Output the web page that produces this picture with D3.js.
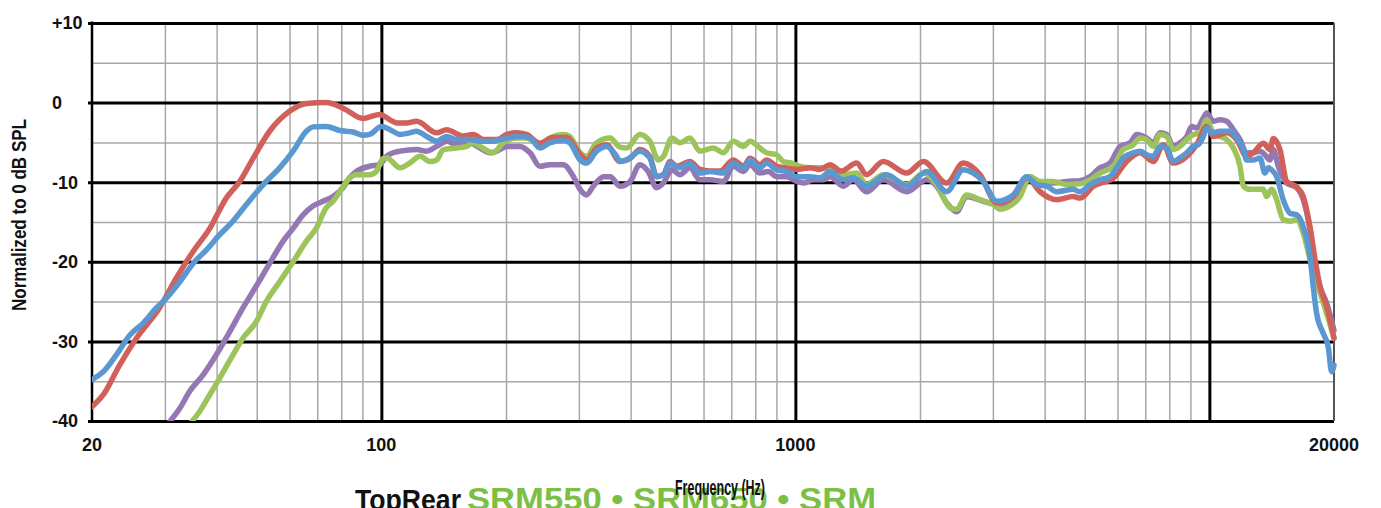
<!DOCTYPE html>
<html>
<head>
<meta charset="utf-8">
<script src="https://cdn.jsdelivr.net/npm/d3@7"></script>
<style>
  body { margin: 0; background: #fff; }
  text { font-family: "Liberation Sans", Arial, sans-serif; font-weight: bold; }
</style>
</head>
<body>
<svg id="chart" width="1381" height="508"></svg>
<script>
// values, [frequency Hz, dB]
const red = [[20,-38.2],[21.3,-36.7],[23.3,-33.0],[25.6,-29.6],[29.1,-25.8],[32.0,-22.0],[35.1,-18.7],[38.5,-15.8],[42.2,-12.0],[45.5,-9.9],[49.0,-7.0],[53.7,-3.6],[60,-1.1],[65.9,-0.1],[73.6,0],[80.8,-0.7],[90.3,-2.0],[93.7,-1.8],[99,-1.5],[106,-2.3],[109,-2.55],[115,-2.55],[121.6,-2.35],[136,-3.8],[143.8,-3.4],[157.7,-4.2],[166.7,-4.0],[176.3,-4.65],[190,-4.65],[200.8,-4.0],[212,-3.8],[224,-4.0],[241.6,-5.1],[260,-4.4],[280,-4.4],[302,-6.5],[313,-7.2],[331,-5.7],[350,-5.3],[377,-7.4],[399,-7.0],[421,-5.9],[445,-6.75],[462,-9.3],[480,-9.05],[498,-7.4],[517,-8.0],[556,-7.4],[588,-8.4],[622,-8.6],[658,-8.6],[708,-7.2],[749,-8.0],[777,-7.0],[821,-7.8],[852,-7.2],[901,-8.0],[953,-8.2],[1008,-8.4],[1085,-8.2],[1147,-8.4],[1213,-7.8],[1290,-8.6],[1406,-7.6],[1486,-9.05],[1630,-7.4],[1858,-8.85],[2038,-7.4],[2320,-10.1],[2545,-7.6],[2792,-9.05],[3064,-12.6],[3360,-11.8],[3621,-9.4],[3900,-11.2],[4278,-12.2],[4692,-11.8],[4870,-12.0],[5244,-10.5],[5861,-9.5],[6314,-7.4],[6800,-6.3],[7320,-7.4],[7740,-5.3],[8180,-7.6],[8820,-6.75],[9320,-5.3],[9852,-3.0],[10218,-4.25],[11012,-3.8],[11640,-4.65],[12300,-6.75],[12760,-6.3],[13500,-5.1],[14010,-5.9],[14270,-4.5],[14810,-5.9],[15370,-9.9],[16250,-10.6],[16860,-11.8],[17500,-15.6],[18000,-19.7],[18500,-23.1],[19200,-25.6],[20000,-29.6]];

const blue = [[20,-34.8],[21.3,-33.8],[22.9,-31.7],[24.7,-29.2],[26.6,-27.7],[28.6,-25.8],[30.2,-24.6],[32.6,-22.5],[35.1,-20.2],[37.8,-18.5],[40.7,-16.6],[43.8,-14.9],[47.2,-12.8],[49.9,-11.3],[52.7,-9.9],[56.8,-8.2],[61.2,-6.1],[65.9,-3.6],[68.4,-3.05],[73.6,-3.0],[79.3,-3.5],[85.4,-3.7],[90.3,-4.1],[93.7,-4.0],[100,-3.0],[105,-3.4],[111,-4.0],[117,-3.8],[121.6,-3.6],[128.7,-4.25],[136,-4.85],[143.8,-4.25],[152,-4.65],[163.7,-4.65],[173,-4.85],[186,-4.85],[200.8,-4.45],[216,-4.25],[228.6,-4.45],[241.6,-5.7],[255,-5.05],[275,-4.75],[285,-5.05],[302,-7.2],[313,-7.6],[331,-6.1],[350,-5.5],[370,-6.75],[377,-7.4],[391,-7.2],[421,-6.1],[445,-6.95],[462,-9.3],[480,-9.05],[498,-7.6],[526,-8.2],[556,-7.6],[588,-8.85],[622,-8.65],[670,-8.85],[708,-7.6],[749,-8.2],[777,-7.2],[821,-8.2],[852,-7.6],[901,-8.45],[953,-8.65],[1008,-9.3],[1085,-9.3],[1147,-9.45],[1213,-8.65],[1305,-9.7],[1380,-9.45],[1486,-10.5],[1662,-9.05],[1858,-10.5],[2076,-8.65],[2320,-11.2],[2545,-8.45],[2690,-8.85],[2844,-9.9],[3064,-12.4],[3360,-11.6],[3621,-9.3],[3828,-10.3],[4046,-10.5],[4278,-11.2],[4692,-10.9],[4870,-11.2],[5150,-10.3],[5444,-9.7],[5754,-9.3],[5972,-8.2],[6194,-6.95],[6548,-6.3],[6800,-6.1],[7058,-6.55],[7320,-6.75],[7598,-5.5],[7886,-5.7],[8180,-7.4],[8492,-6.95],[8820,-6.3],[9140,-5.5],[9400,-5.3],[9668,-4.25],[9852,-3.2],[10126,-3.8],[10604,-3.6],[11220,-3.6],[11640,-4.45],[12080,-5.9],[12300,-7.2],[12760,-7.2],[13250,-6.95],[13620,-8.85],[13880,-8.2],[14140,-8.45],[14540,-9.3],[15080,-12.2],[15660,-13.9],[16250,-14.1],[16860,-15.6],[17500,-19.3],[17820,-23.1],[18160,-26.5],[18840,-29.0],[19370,-30.7],[19740,-33.8],[20000,-33.0]];

const green = [[34.8,-40.1],[36.4,-38.8],[38.5,-36.7],[40.7,-34.6],[43.8,-31.7],[46.3,-29.6],[49.9,-27.5],[52.7,-25.0],[56.8,-22.5],[61.2,-20.0],[65.9,-17.4],[69.6,-15.8],[73.6,-13.2],[76.4,-12.4],[79.3,-11.2],[82.3,-9.9],[87,-9.05],[93.7,-9.05],[97.2,-8.65],[101,-7.0],[103,-6.95],[111,-8.2],[117,-7.6],[124,-6.75],[131,-7.4],[136,-7.2],[141,-5.9],[152,-5.7],[160.7,-5.5],[166.7,-5.05],[173,-5.5],[186,-6.3],[197,-5.05],[212,-4.45],[224,-4.45],[241.6,-5.3],[255,-4.45],[275,-4.0],[285,-4.25],[302,-6.3],[313,-6.75],[331,-5.05],[357,-4.45],[377,-5.6],[391,-5.7],[421,-4.0],[445,-4.85],[467,-7.2],[480,-6.75],[503,-4.45],[526,-5.05],[556,-4.45],[588,-6.1],[633,-5.7],[670,-6.3],[708,-4.85],[749,-5.5],[777,-4.85],[821,-5.7],[852,-6.3],[901,-6.55],[935,-7.4],[980,-7.6],[1026,-8.0],[1085,-8.2],[1168,-8.2],[1235,-8.65],[1305,-9.05],[1406,-8.85],[1486,-10.3],[1630,-9.05],[1858,-10.3],[2044,-8.85],[2194,-10.3],[2364,-13.2],[2452,-13.4],[2592,-11.6],[2792,-12.2],[3006,-12.8],[3122,-13.4],[3240,-13.2],[3488,-11.8],[3688,-9.3],[3900,-9.9],[4198,-9.9],[4524,-10.3],[4870,-10.2],[5150,-9.7],[5444,-8.85],[5861,-8.0],[6194,-5.9],[6548,-5.3],[6800,-4.45],[7058,-4.65],[7320,-5.5],[7598,-4.0],[7886,-4.25],[8180,-5.9],[8492,-5.5],[8820,-4.65],[9140,-4.0],[9494,-3.8],[9852,-2.15],[10218,-3.8],[10604,-4.25],[11012,-4.65],[11430,-5.7],[11860,-8.0],[12080,-10.5],[12540,-10.9],[13010,-10.9],[13500,-10.9],[13750,-11.8],[14140,-10.9],[14540,-12.2],[15080,-14.7],[15660,-14.9],[16250,-14.7],[16860,-16.4],[17500,-19.7],[18000,-22.3],[18500,-23.9],[19200,-26.5],[20000,-29.6]];

const purple = [[30.8,-40.1],[32.6,-38.4],[34.4,-36.3],[37.1,-34.2],[39.9,-31.7],[43.0,-28.8],[46.3,-25.8],[49.0,-23.7],[51.8,-21.6],[54.7,-19.5],[57.9,-17.4],[61.2,-15.8],[64.7,-14.1],[68.4,-13.0],[72.3,-12.4],[76.4,-11.8],[80.8,-10.7],[83.8,-9.45],[87,-8.65],[93.7,-8.0],[99,-7.8],[102.8,-6.75],[106.7,-6.3],[111,-6.1],[121.6,-5.9],[128.7,-6.1],[136,-5.5],[143.8,-4.85],[152,-5.3],[160.7,-4.85],[173,-5.7],[183,-6.3],[190,-6.1],[200.8,-5.5],[216,-5.5],[228.6,-6.3],[241.6,-8.0],[255,-7.8],[275,-7.8],[291,-9.3],[302,-10.9],[313,-11.6],[325,-10.5],[344,-9.3],[357,-9.3],[377,-10.5],[399,-9.9],[421,-7.8],[441,-8.65],[462,-10.7],[480,-10.1],[503,-8.45],[526,-9.05],[556,-8.2],[588,-9.7],[622,-9.7],[670,-9.9],[708,-8.0],[749,-8.65],[777,-7.8],[821,-8.85],[860,-8.65],[901,-9.3],[953,-9.3],[1008,-9.9],[1045,-10.1],[1105,-9.7],[1168,-9.7],[1213,-9.3],[1305,-10.5],[1380,-9.7],[1486,-11.2],[1630,-9.7],[1858,-11.2],[2076,-9.7],[2194,-10.5],[2320,-12.6],[2452,-13.7],[2592,-11.8],[2844,-12.4],[3064,-12.8],[3240,-12.6],[3488,-11.4],[3688,-9.3],[3900,-10.1],[4198,-10.1],[4524,-9.9],[4870,-9.8],[5150,-9.3],[5444,-8.2],[5754,-7.6],[6084,-5.5],[6432,-5.05],[6676,-4.0],[7058,-4.45],[7320,-5.05],[7598,-3.8],[7886,-4.0],[8180,-5.5],[8492,-5.05],[8820,-4.25],[9064,-3.0],[9320,-3.2],[9668,-1.95],[9852,-1.3],[10218,-2.35],[10604,-2.15],[11012,-2.35],[11430,-3.4],[11860,-4.65],[12300,-6.3],[12760,-6.3],[13250,-6.1],[13620,-6.55],[14010,-7.2],[14270,-5.9],[14670,-8.0],[15370,-10.1],[16250,-10.7],[16860,-12.2],[17500,-16.0],[18000,-20.6],[18500,-23.1],[19200,-25.2],[20000,-28.6]];

const yTicks = [10, 0, -10, -20, -30, -40];
const yTickLabels = ["+10", "0", "-10", "-20", "-30", "-40"];
const yMinor = [5, -5, -15, -25, -35];
const xTicks = [20, 100, 1000, 20000];
const xTickLabels = ["20", "100", "1000", "20000"];
const xMajor = [100, 1000, 10000];
const xMinor = [30, 40, 50, 60, 70, 80, 90, 200, 300, 400, 500, 600, 700, 800, 900,
                2000, 3000, 4000, 5000, 6000, 7000, 8000, 9000];

const svg = d3.select('#chart');
const plot = { left: 92, right: 1334, top: 23, bottom: 421 };

const x = d3.scaleLog().domain([20, 20000]).range([plot.left, plot.right]);
const y = d3.scaleLinear().domain([-40, 10]).range([plot.bottom, plot.top]);
const plotW = plot.right - plot.left;
const plotH = plot.bottom - plot.top;

// minor grid
svg.append('g')
  .attr('transform', `translate(0,${plot.bottom})`)
  .call(d3.axisBottom(x).tickValues(xMinor).tickSize(-plotH).tickFormat(''))
  .call(g => g.select('.domain').remove())
  .call(g => g.selectAll('line').attr('stroke', '#a8a8a8').attr('stroke-width', 1.5));

svg.append('g')
  .attr('transform', `translate(${plot.left},0)`)
  .call(d3.axisLeft(y).tickValues(yMinor).tickSize(-plotW).tickFormat(''))
  .call(g => g.select('.domain').remove())
  .call(g => g.selectAll('line').attr('stroke', '#a8a8a8').attr('stroke-width', 1.5));

// major grid
svg.append('g')
  .attr('transform', `translate(0,${plot.bottom})`)
  .call(d3.axisBottom(x).tickValues(xMajor).tickSize(-plotH).tickFormat(''))
  .call(g => g.select('.domain').remove())
  .call(g => g.selectAll('line').attr('stroke', '#000').attr('stroke-width', 3));

svg.append('g')
  .attr('transform', `translate(${plot.right},0)`)
  .call(d3.axisLeft(y).tickValues(yTicks).tickSize(plotW + 4).tickFormat(''))
  .call(g => g.select('.domain').remove())
  .call(g => g.selectAll('line').attr('stroke', '#000').attr('stroke-width', 3));

// frame
svg.append('line').attr('x1', plot.left).attr('x2', plot.left)
  .attr('y1', plot.top - 1.5).attr('y2', plot.bottom + 1.5)
  .attr('stroke', '#000').attr('stroke-width', 2.5);
svg.append('line').attr('x1', plot.right).attr('x2', plot.right)
  .attr('y1', plot.top).attr('y2', plot.bottom)
  .attr('stroke', '#555').attr('stroke-width', 2);

// curves
svg.append('clipPath').attr('id', 'plotclip')
  .append('rect').attr('x', plot.left).attr('y', plot.top)
  .attr('width', plotW + 3).attr('height', plotH);

const line = d3.line()
  .x(d => x(d[0]))
  .y(d => y(d[1]))
  .curve(d3.curveMonotoneX);

const series = [
  { data: purple, color: '#9378b4' },
  { data: green, color: '#9dc35b' },
  { data: red, color: '#d2605a' },
  { data: blue, color: '#5b97d1' }
];

svg.append('g').attr('clip-path', 'url(#plotclip)')
  .selectAll('path')
  .data(series)
  .join('path')
  .attr('d', d => line(d.data))
  .attr('fill', 'none')
  .attr('stroke', d => d.color)
  .attr('stroke-width', 5.5)
  .attr('stroke-linejoin', 'round')
  .attr('stroke-linecap', 'round');

// tick labels
svg.append('g').selectAll('text')
  .data(yTicks)
  .join('text')
  .attr('x', 52)
  .attr('y', d => y(d))
  .attr('dy', '0.35em')
  .attr('font-size', 18)
  .attr('fill', '#111')
  .text((d, i) => yTickLabels[i]);

svg.append('g').selectAll('text')
  .data(xTicks)
  .join('text')
  .attr('x', d => x(d))
  .attr('y', 445)
  .attr('dy', '0.35em')
  .attr('text-anchor', 'middle')
  .attr('font-size', 18)
  .attr('fill', '#111')
  .text((d, i) => xTickLabels[i]);

// axis title (condensed look by squeezing)
svg.append('text')
  .attr('transform', 'translate(26,215) rotate(-90)')
  .attr('text-anchor', 'middle')
  .attr('font-size', 20)
  .attr('textLength', 192)
  .attr('lengthAdjust', 'spacingAndGlyphs')
  .attr('fill', '#111')
  .text('Normalized to 0 dB SPL');

// caption underneath, cut by the bottom edge as in the reference
svg.append('text')
  .attr('x', 355).attr('y', 510)
  .attr('font-size', 30)
  .attr('textLength', 106)
  .attr('lengthAdjust', 'spacingAndGlyphs')
  .attr('fill', '#111')
  .text('TopRear');

svg.append('text')
  .attr('x', 467).attr('y', 510)
  .attr('font-size', 31)
  .attr('textLength', 409)
  .attr('lengthAdjust', 'spacingAndGlyphs')
  .attr('fill', '#7bbf45')
  .text('SRM550 \u2022 SRM650 \u2022 SRM');

svg.append('text')
  .attr('x', 720).attr('y', 495)
  .attr('text-anchor', 'middle')
  .attr('font-size', 22)
  .attr('textLength', 90)
  .attr('lengthAdjust', 'spacingAndGlyphs')
  .attr('fill', '#111')
  .text('Frequency (Hz)');
</script>
</body>
</html>
